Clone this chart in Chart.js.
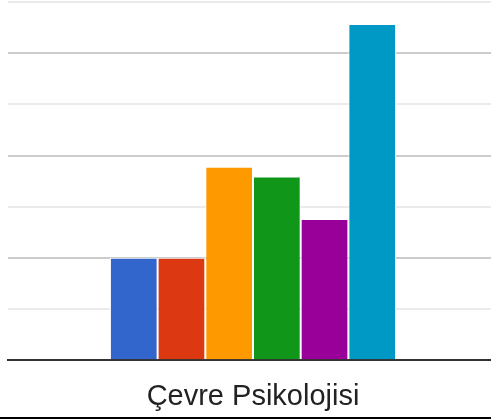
<!DOCTYPE html>
<html>
<head>
<meta charset="utf-8">
<script src="https://cdn.jsdelivr.net/npm/chart.js@4"></script>
<style>
    html, body { margin: 0; padding: 0; background: #fff; overflow: hidden; }
    #wrap { position: absolute; left: 0; top: 0; width: 498px; height: 419px; overflow: hidden; }
    #edge { position: absolute; left: 0; top: 417px; width: 498px; height: 2px; background: #000; }
    canvas { display: block; }
</style>
</head>
<body>
<div id="wrap"><canvas id="chart_bar" width="498" height="425"></canvas></div>
<div id="edge"></div>
<script>
// Data
const categories = ['Çevre Psikolojisi'];
const seriesNames = ['Seçenek 1', 'Seçenek 2', 'Seçenek 3', 'Seçenek 4', 'Seçenek 5', 'Seçenek 6'];
const seriesValues = [2.0, 2.0, 3.78, 3.59, 2.76, 6.57];
const seriesColors = ['#3366cc', '#dc3912', '#ff9900', '#109618', '#990099', '#0099c6'];

let chartBar = new Chart(
    document.getElementById('chart_bar'),
    {
        type: 'bar',
        data: {
            labels: categories,
            datasets: seriesNames.map((name, i) => ({
                label: name,
                backgroundColor: seriesColors[i],
                borderColor: '#ffffff',
                borderWidth: 1,
                data: [seriesValues[i]],
            })),
        },
        options: {
            responsive: false,
            animation: false,
            devicePixelRatio: 1,
            categoryPercentage: 0.584,
            barPercentage: 1,
            layout: {
                padding: { left: 8, top: 2, right: 0, bottom: 0 },
            },
            scales: {
                x: {
                    grid: { display: false },
                    border: { display: true, color: '#333333', width: 2 },
                    ticks: {
                        color: '#222222',
                        padding: 11,
                        font: { family: 'Liberation Sans, Arial, sans-serif', size: 29 },
                    },
                },
                y: {
                    min: 0,
                    max: 7,
                    ticks: { display: false, stepSize: 1 },
                    border: { display: false },
                    grid: {
                        drawTicks: false,
                        lineWidth: 2,
                        color: ctx => ctx.tick.value === 0 ? '#333333' : (ctx.tick.value % 2 === 0 ? '#cccccc' : '#ebebeb'),
                    },
                },
            },
            plugins: {
                legend: { display: false },
                tooltip: { enabled: false },
            },
        },
    }
);
</script>
</body>
</html>
